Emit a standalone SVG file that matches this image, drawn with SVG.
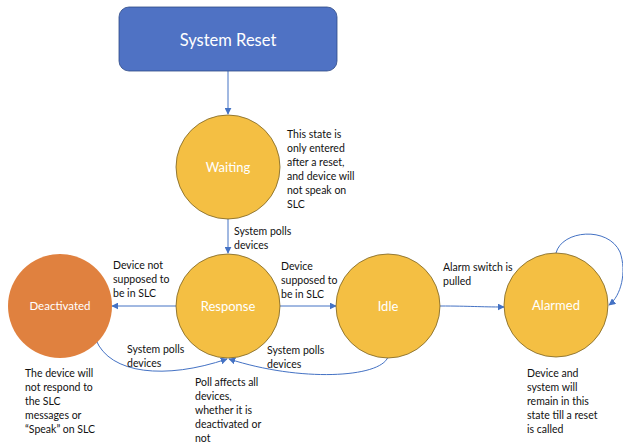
<svg xmlns="http://www.w3.org/2000/svg" width="623" height="445" viewBox="0 0 623 445">
<defs>
<style>
.lbl{font-family:Lato,"Liberation Sans",sans-serif;font-size:10.5px;fill:#111}
.nt{font-family:Lato,"Liberation Sans",sans-serif;fill:#fff;text-anchor:middle}
.st{fill:#F4BF43;stroke:#7A6222;stroke-width:0.8}
.cn{fill:none;stroke:#4472C4;stroke-width:1}
</style>
<marker id="ah" viewBox="0 0 10 10" refX="9" refY="5" markerWidth="7" markerHeight="7" orient="auto" markerUnits="userSpaceOnUse">
<path d="M0,0 L10,5 L0,10 z" fill="#4472C4"/>
</marker>
</defs>
<rect width="623" height="445" fill="#fff"/>
<g id="connectors">
<path class="cn" d="M228,71 L228,114" marker-end="url(#ah)"/>
<path class="cn" d="M228,219 L228,253" marker-end="url(#ah)"/>
<path class="cn" d="M176,306 L112,306" marker-end="url(#ah)"/>
<path class="cn" d="M280,306 L336,306" marker-end="url(#ah)"/>
<path class="cn" d="M440,306 C470,306 480,307 504,307" marker-end="url(#ah)"/>
<path class="cn" d="M96,340 C110,374 165,380 227,359" marker-end="url(#ah)"/>
<path class="cn" d="M388,357 C380,378 300,382 229,359" marker-end="url(#ah)"/>
<path class="cn" d="M556,253 C562,230 608,226 620,252 C627,272 621,296 609,305" marker-end="url(#ah)"/>
</g>
<g id="system-reset">
<rect x="119" y="7" width="218" height="64" rx="10" fill="#4F72C4" stroke="#2F4A86" stroke-width="0.8"/>
<text class="nt" x="228" y="46" font-size="16.5">System Reset</text>
</g>
<g id="waiting">
<circle class="st" cx="228" cy="167" r="52"/>
<text class="nt" x="228" y="172" font-size="13">Waiting</text>
</g>
<g id="response">
<circle class="st" cx="228" cy="306" r="52"/>
<text class="nt" x="228" y="311" font-size="13">Response</text>
</g>
<g id="idle">
<circle class="st" cx="388" cy="306" r="52"/>
<text class="nt" x="388" y="311" font-size="13">Idle</text>
</g>
<g id="alarmed">
<circle class="st" cx="556" cy="305" r="52"/>
<text class="nt" x="556" y="310" font-size="13">Alarmed</text>
</g>
<g id="deactivated">
<circle cx="60" cy="306" r="52" fill="#E0813F"/>
<text class="nt" x="60" y="310" font-size="11.5">Deactivated</text>
</g>
<g id="labels">
<text class="lbl" x="287" y="138">This state is</text>
<text class="lbl" x="287" y="152">only entered</text>
<text class="lbl" x="287" y="166">after a reset,</text>
<text class="lbl" x="287" y="180">and device will</text>
<text class="lbl" x="287" y="194">not speak on</text>
<text class="lbl" x="287" y="208">SLC</text>
<text class="lbl" x="234" y="235">System polls</text>
<text class="lbl" x="234" y="249">devices</text>
<text class="lbl" x="113" y="269">Device not</text>
<text class="lbl" x="113" y="283">supposed to</text>
<text class="lbl" x="113" y="297">be in SLC</text>
<text class="lbl" x="281" y="270">Device</text>
<text class="lbl" x="281" y="284">supposed to</text>
<text class="lbl" x="281" y="298">be in SLC</text>
<text class="lbl" x="443" y="271">Alarm switch is</text>
<text class="lbl" x="443" y="285">pulled</text>
<text class="lbl" x="127" y="353">System polls</text>
<text class="lbl" x="127" y="367">devices</text>
<text class="lbl" x="267" y="354">System polls</text>
<text class="lbl" x="267" y="368">devices</text>
<text class="lbl" x="25" y="377">The device will</text>
<text class="lbl" x="25" y="391">not respond to</text>
<text class="lbl" x="25" y="405">the SLC</text>
<text class="lbl" x="25" y="419">messages or</text>
<text class="lbl" x="25" y="433">“Speak” on SLC</text>
<text class="lbl" x="195" y="386">Poll affects all</text>
<text class="lbl" x="195" y="400">devices,</text>
<text class="lbl" x="195" y="414">whether it is</text>
<text class="lbl" x="195" y="428">deactivated or</text>
<text class="lbl" x="195" y="442">not</text>
<text class="lbl" x="527" y="377">Device and</text>
<text class="lbl" x="527" y="391">system will</text>
<text class="lbl" x="527" y="405">remain in this</text>
<text class="lbl" x="527" y="419">state till a reset</text>
<text class="lbl" x="527" y="433">is called</text>
</g>
</svg>
